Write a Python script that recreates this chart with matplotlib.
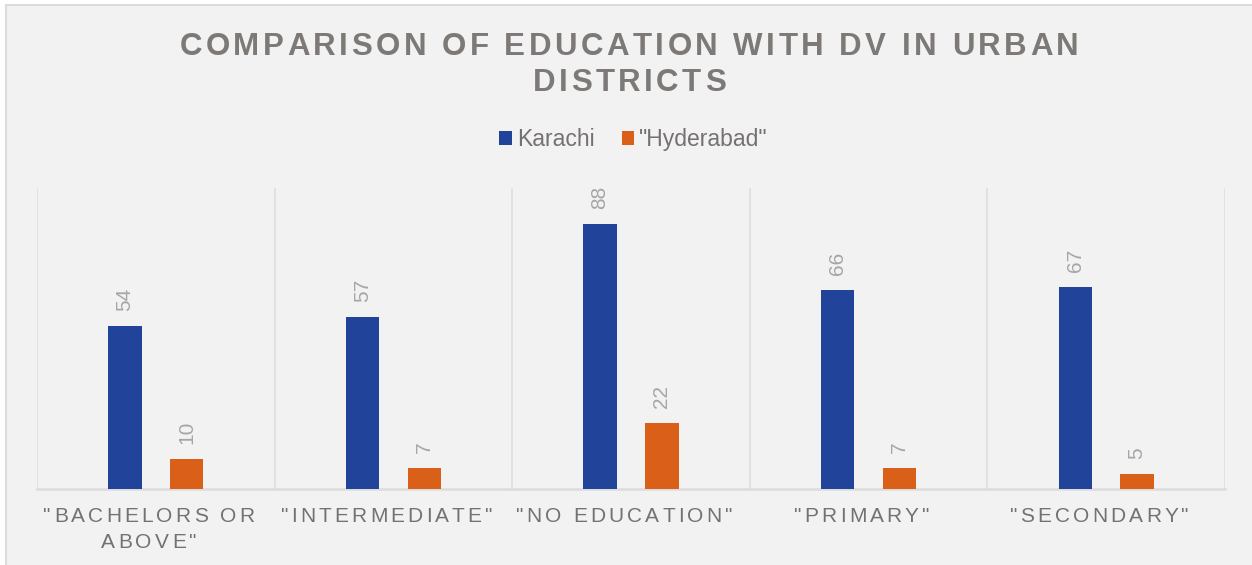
import numpy as np
import matplotlib
matplotlib.use('Agg')
import matplotlib.pyplot as plt
from matplotlib.patches import Rectangle
from matplotlib.font_manager import FontProperties, findfont, get_font
import matplotlib.transforms as mtransforms

# data
categories = ['"BACHELORS OR\nABOVE"', '"INTERMEDIATE"', '"NO EDUCATION"', '"PRIMARY"', '"SECONDARY"']
series_names = ['Karachi', '"Hyderabad"']
karachi = [54, 57, 88, 66, 67]
hyderabad = [10, 7, 22, 7, 5]
title_lines = ['COMPARISON OF EDUCATION WITH DV IN URBAN', 'DISTRICTS']

blue = '#21449a'
orange = '#da601a'
bg = '#f2f2f2'
grid_c = '#dcdcdc'
title_c = '#7d7977'
tick_c = '#767171'
label_c = '#a6a6a6'
FONT = 'Liberation Sans'

W, H = 1252, 565
fig = plt.figure(figsize=(W / 100, H / 100), dpi=100, facecolor='white')
# chart area with border on left/top
fig.patches.append(Rectangle((6 / W, -0.05), 1.1, (H - 5) / H + 0.05, transform=fig.transFigure,
                             facecolor=bg, edgecolor=grid_c, lw=1.5, zorder=-10))

ax = fig.add_axes([37 / W, (H - 489) / H, (1225 - 37) / W, (489 - 188) / H])
ax.set_facecolor('none')

x = np.arange(len(categories))
off = 0.13
bw = 0.14
b1 = ax.bar(x - off, karachi, bw, color=blue, zorder=3)
b2 = ax.bar(x + off, hyderabad, bw, color=orange, zorder=3)
ax.set_xlim(-0.5, len(categories) - 0.5)
ax.set_ylim(0, 100)
for xv in np.arange(-0.5, len(categories), 1.0):
    ax.axvline(xv, color=grid_c, lw=1.1, zorder=1)
for s in ['top', 'right', 'left']:
    ax.spines[s].set_visible(False)
ax.spines['bottom'].set_color(grid_c)
ax.spines['bottom'].set_linewidth(1.8)
ax.set_yticks([])
ax.set_xticks(x)
ax.set_xticklabels([])
ax.tick_params(axis='x', length=0)

# data labels
for bars, vals in [(b1, karachi), (b2, hyderabad)]:
    for b, v in zip(bars, vals):
        ax.annotate(str(v), xy=(b.get_x() + b.get_width() / 2, v), xytext=(0, 11),
                    textcoords='offset points', ha='center', va='bottom', rotation=90,
                    fontsize=15, color=label_c, family=FONT)


def spaced_text(xy, xycoords, s, size, spacing, xoff=0, yoff=0, weight='normal', color='k', va='top'):
    # draw text with letter spacing (points), centered on xy
    prop = FontProperties(family=FONT, size=size, weight=weight)
    font = get_font(findfont(prop))
    font.set_size(size, 72)
    adv = [font.load_char(ord(c)).linearHoriAdvance / 65536 for c in s]
    total = sum(adv) + spacing * (len(s) - 1)
    pos = xoff - total / 2
    for c, a in zip(s, adv):
        ax.annotate(c, xy=xy, xycoords=xycoords, xytext=(pos, yoff), textcoords='offset points',
                    ha='left', va=va, fontproperties=prop, color=color, annotation_clip=False)
        pos += a + spacing


# category labels
trans = mtransforms.blended_transform_factory(ax.transData, ax.transAxes)
for xi, cat in zip(x, categories):
    for li, line in enumerate(cat.split('\n')):
        spaced_text((xi, 0), trans, line, 15, 2.3, xoff=-5, yoff=-13 - li * 19, color=tick_c)

# title
for li, line in enumerate(title_lines):
    spaced_text((0.5025, 1 - 32 / H), fig.transFigure, line, 22.5, 2.5, yoff=-li * 26,
                weight='bold', color=title_c)

# legend
leg = fig.legend([b1, b2], series_names, loc='center', bbox_to_anchor=(0.506, 1 - 140 / H), ncol=2,
                 frameon=False, handlelength=0.55, handleheight=0.55, handletextpad=0.2,
                 columnspacing=1.2, prop=FontProperties(family=FONT, size=16.5))
for t in leg.get_texts():
    t.set_color(tick_c)

fig.savefig('out.png', dpi=100, facecolor=fig.get_facecolor())
